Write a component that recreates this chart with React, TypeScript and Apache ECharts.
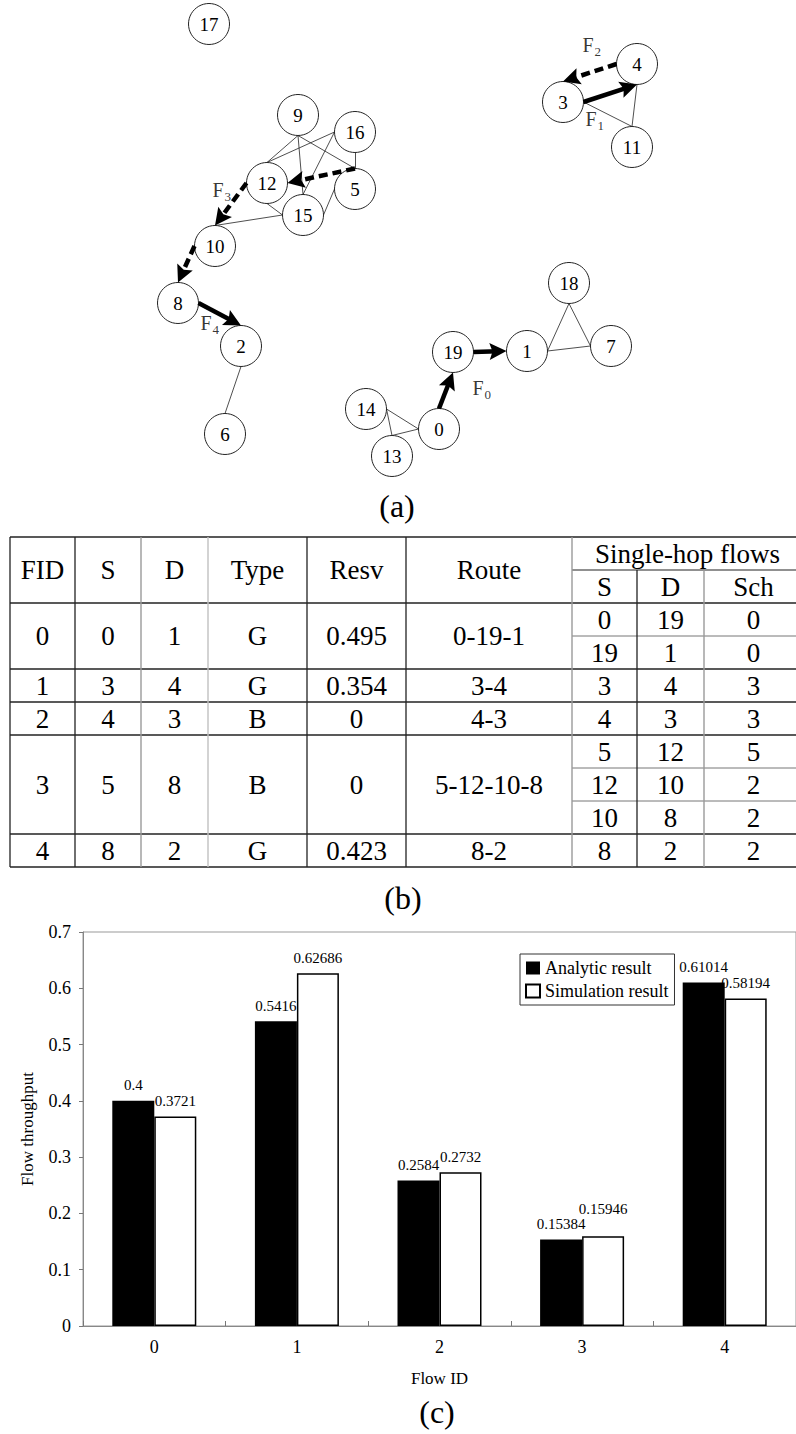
import { useEffect, useRef } from 'react';
import * as echarts from 'echarts';

const SERIF = 'Liberation Serif';
const DARK = '#222';
const GREY = '#9a9a9a';

// ---------- (a) network ----------
const nodeNames = ['0','1','2','3','4','5','6','7','8','9','10','11','12','13','14','15','16','17','18','19'];
const nodeX = [439, 527, 241, 563, 637, 355, 225, 611, 178, 298, 215, 632, 267, 392, 366, 303, 355, 209, 569, 453];
const nodeY = [429, 351, 346, 102, 64, 189, 434, 346, 303, 115, 246, 147, 183, 456, 409, 215, 132, 24, 283, 352];
const edgeFrom = ['9','9','9','16','16','16','12','15','15','2','14','14','13','1','18','1','3','4'];
const edgeTo   = ['12','15','5','12','15','5','15','5','10','6','0','13','0','18','7','7','11','11'];
// attachment side of each edge end on the node circle (N/E/S/W), as drawn in the figure
const edgeFromPort = ['S','S','S','W','W','S','S','E','W','S','E','E','N','E','S','E','E','S'];
const edgeToPort   = ['N','N','N','N','N','N','W','W','N','N','W','N','W','S','W','W','N','N'];
// same for the single-hop flows, in the order of the table's hop rows
const hopFromPort = ['N','E','E','W','N','W','W','E'];
const hopToPort   = ['S','W','S','N','E','N','N','N'];
// flow label anchors (left edge of "F", vertical centre of "F")
const flowLabelX = [472, 585, 582, 212, 200];
const flowLabelY = [388, 119, 45, 190, 323];

// ---------- (b) table ----------
const tableHeaders = ['FID', 'S', 'D', 'Type', 'Resv', 'Route'];
const hopGroupTitle = 'Single-hop flows';
const hopHeaders = ['S', 'D', 'Sch'];
const tableFlowIds = ['0', '1', '2', '3', '4'];
const tableSrc = ['0', '3', '4', '5', '8'];
const tableDst = ['1', '4', '3', '8', '2'];
const tableType = ['G', 'G', 'B', 'B', 'G'];
const tableResv = ['0.495', '0.354', '0', '0', '0.423'];
const tableRoute = ['0-19-1', '3-4', '4-3', '5-12-10-8', '8-2'];
const hopSrc = [['0', '19'], ['3'], ['4'], ['5', '12', '10'], ['8']];
const hopDst = [['19', '1'], ['4'], ['3'], ['12', '10', '8'], ['2']];
const hopSch = [['0', '0'], ['3'], ['3'], ['5', '2', '2'], ['2']];

// ---------- (c) bar chart ----------
const flowCategories = ['0', '1', '2', '3', '4'];
const analyticResult = [0.4, 0.5416, 0.2584, 0.15384, 0.61014];
const simulationResult = [0.3721, 0.62686, 0.2732, 0.15946, 0.58194];
const seriesNames = ['Analytic result', 'Simulation result'];

// layout constants
const NODE_SIZE = 41;
const ARROW = 17;
const ARROW_PATH = 'path://M5,0L10,14L5,11.5L0,14Z';
const TABLE_LEFT = 10;
const TABLE_TOP = 537;
const SUB_H = 33;
const COL_W = [65, 66, 67, 99, 99, 166, 65, 67, 99];
const V_COLORS = [DARK, DARK, GREY, '#c0c0c0', DARK, DARK, GREY, DARK, GREY, DARK];

function portPoint(name: string, port: string): number[] {
  const i = nodeNames.indexOf(name);
  const R = NODE_SIZE / 2;
  const d: Record<string, number[]> = { N: [0, -R], E: [R, 0], S: [0, R], W: [-R, 0] };
  return [nodeX[i] + d[port][0], nodeY[i] + d[port][1]];
}

function buildEdges() {
  return edgeFrom.map((s, i) => ({
    coords: [portPoint(s, edgeFromPort[i]), portPoint(edgeTo[i], edgeToPort[i])],
  }));
}

function buildFlowLines() {
  const out: any[] = [];
  let h = 0;
  hopSrc.forEach((srcs, f) => {
    srcs.forEach((s, k) => {
      const d = hopDst[f][k];
      const start = portPoint(s, hopFromPort[h]);
      const tip = portPoint(d, hopToPort[h]);
      h++;
      const dx = tip[0] - start[0];
      const dy = tip[1] - start[1];
      const L = Math.hypot(dx, dy);
      const end = [tip[0] - (dx / L) * (ARROW / 2), tip[1] - (dy / L) * (ARROW / 2)];
      const dashed = tableType[f] === 'B';
      out.push({
        coords: [start, end],
        lineStyle: { color: '#000', width: 4.5, type: dashed ? [9, 5] : 'solid', opacity: 1 },
      });
    });
  });
  return out;
}

function plainText(t: string, x: number, y: number, size: number) {
  return {
    type: 'text',
    x,
    y,
    style: {
      text: t,
      fill: '#000',
      fontSize: size,
      fontFamily: SERIF,
      align: 'center',
      verticalAlign: 'middle',
    },
  };
}

function buildTable() {
  const els: any[] = [];
  const xs = [TABLE_LEFT];
  COL_W.forEach((w) => xs.push(xs[xs.length - 1] + w));
  const right = xs[xs.length - 1];
  const hdrMid = TABLE_TOP + SUB_H;
  const hdrBot = TABLE_TOP + 2 * SUB_H;
  const text = (t: string, x: number, y: number) => plainText(t, x, y, 27);
  const line = (x1: number, y1: number, x2: number, y2: number, c: string, w: number) => ({
    type: 'line',
    shape: { x1, y1, x2, y2 },
    style: { stroke: c, lineWidth: w },
  });
  tableHeaders.forEach((hd, i) => els.push(text(hd, (xs[i] + xs[i + 1]) / 2, (TABLE_TOP + hdrBot) / 2)));
  els.push(text(hopGroupTitle, (xs[6] + right) / 2, (TABLE_TOP + hdrMid) / 2));
  hopHeaders.forEach((hd, i) => els.push(text(hd, (xs[6 + i] + xs[7 + i]) / 2, (hdrMid + hdrBot) / 2)));
  let y = hdrBot;
  const rowBounds = [TABLE_TOP, hdrBot];
  const subLines: number[] = [];
  tableFlowIds.forEach((fid, r) => {
    const n = hopSrc[r].length;
    const h = n * SUB_H;
    const vals = [fid, tableSrc[r], tableDst[r], tableType[r], tableResv[r], tableRoute[r]];
    vals.forEach((v, i) => els.push(text(v, (xs[i] + xs[i + 1]) / 2, y + h / 2)));
    for (let k = 0; k < n; k++) {
      const cy = y + k * SUB_H + SUB_H / 2;
      [hopSrc[r][k], hopDst[r][k], hopSch[r][k]].forEach((v, i) =>
        els.push(text(v, (xs[6 + i] + xs[7 + i]) / 2, cy)),
      );
      if (k > 0) subLines.push(y + k * SUB_H);
    }
    y += h;
    rowBounds.push(y);
  });
  els.push(line(xs[6], hdrMid, right, hdrMid, DARK, 1.2));
  subLines.forEach((yy) => els.push(line(xs[6], yy, right, yy, '#777', 1)));
  rowBounds.forEach((yy) => els.push(line(xs[0], yy, right, yy, DARK, 1.3)));
  xs.forEach((x, i) => {
    const top = i === 7 || i === 8 ? hdrMid : TABLE_TOP;
    els.push(line(x, top, x, y, V_COLORS[i], V_COLORS[i] === DARK ? 1.3 : 1.4));
  });
  return els;
}

function buildOption(): any {
  const nodes = nodeNames.map((name, i) => ({ name, value: [nodeX[i], nodeY[i]] }));
  const flowLabels = tableFlowIds.map((id, i) => ({ value: [flowLabelX[i], flowLabelY[i]], id }));
  const barLabel = {
    show: true,
    position: 'top',
    distance: 8,
    color: '#000',
    fontSize: 15,
    fontFamily: SERIF,
  };
  return {
    animation: false,
    backgroundColor: '#fff',
    textStyle: { fontFamily: SERIF },
    grid: [
      { left: 0, top: 0, width: 796, height: 480, show: false },
      { left: 83, top: 932, width: 725, height: 394, show: true, borderColor: '#999', borderWidth: 1, backgroundColor: 'transparent' },
    ],
    xAxis: [
      { type: 'value', gridIndex: 0, min: 0, max: 796, show: false },
      {
        type: 'category',
        gridIndex: 1,
        data: flowCategories,
        name: 'Flow ID',
        nameLocation: 'middle',
        nameGap: 44,
        nameTextStyle: { fontFamily: SERIF, fontSize: 17, color: '#000' },
        axisLine: { show: true, lineStyle: { color: '#888', width: 1 } },
        axisTick: { show: true, inside: true, length: 5, lineStyle: { color: '#777' } },
        axisLabel: { fontFamily: SERIF, fontSize: 18, color: '#000', margin: 12 },
        splitLine: { show: false },
      },
    ],
    yAxis: [
      { type: 'value', gridIndex: 0, min: 0, max: 480, inverse: true, show: false },
      {
        type: 'value',
        gridIndex: 1,
        min: 0,
        max: 0.7,
        interval: 0.1,
        name: 'Flow throughput',
        nameLocation: 'middle',
        nameGap: 47,
        nameTextStyle: { fontFamily: SERIF, fontSize: 17, color: '#000' },
        axisLine: { show: true, lineStyle: { color: '#888', width: 1 } },
        axisTick: { show: true, length: 4, lineStyle: { color: '#777' } },
        axisLabel: { fontFamily: SERIF, fontSize: 18, color: '#000', margin: 12 },
        splitLine: { show: false },
      },
    ],
    legend: {
      left: 520,
      top: 954,
      orient: 'vertical',
      padding: [5, 6, 5, 5],
      itemGap: 5,
      itemWidth: 14,
      itemHeight: 13,
      icon: 'rect',
      borderColor: '#333',
      borderWidth: 1,
      selectedMode: false,
      textStyle: { fontFamily: SERIF, fontSize: 18, color: '#000' },
      data: seriesNames,
    },
    graphic: [
      ...buildTable(),
      plainText('(a)', 397, 506, 32),
      plainText('(b)', 403, 898, 32),
      plainText('(c)', 437, 1412, 32),
    ],
    series: [
      {
        type: 'lines',
        coordinateSystem: 'cartesian2d',
        xAxisIndex: 0,
        yAxisIndex: 0,
        z: 2,
        lineStyle: { color: '#222', width: 0.8, opacity: 1 },
        emphasis: { disabled: true },
        data: buildEdges(),
      },
      {
        type: 'scatter',
        xAxisIndex: 0,
        yAxisIndex: 0,
        z: 3,
        symbol: 'circle',
        symbolSize: NODE_SIZE,
        itemStyle: { color: '#fff', borderColor: '#222', borderWidth: 1, opacity: 1 },
        label: {
          show: true,
          position: 'inside',
          formatter: '{b}',
          fontSize: 19,
          fontFamily: SERIF,
          color: '#000',
        },
        emphasis: { disabled: true },
        data: nodes,
      },
      {
        type: 'lines',
        coordinateSystem: 'cartesian2d',
        xAxisIndex: 0,
        yAxisIndex: 0,
        z: 4,
        symbol: ['none', ARROW_PATH],
        symbolSize: [0, ARROW],
        emphasis: { disabled: true },
        data: buildFlowLines(),
      },
      {
        type: 'scatter',
        xAxisIndex: 0,
        yAxisIndex: 0,
        z: 5,
        symbolSize: 1,
        itemStyle: { color: 'rgba(0,0,0,0)' },
        emphasis: { disabled: true },
        label: {
          show: true,
          position: 'right',
          distance: 0,
          formatter: (p: any) => `{f|F}{s|${p.data.id}}`,
          rich: {
            f: { fontSize: 20, fontFamily: SERIF, color: '#000', verticalAlign: 'top', lineHeight: 20 },
            s: { fontSize: 13, fontFamily: SERIF, color: '#000', verticalAlign: 'top', lineHeight: 13, padding: [10, 0, 0, 1] },
          },
        },
        data: flowLabels,
      },
      {
        name: seriesNames[0],
        type: 'bar',
        xAxisIndex: 1,
        yAxisIndex: 1,
        barWidth: 42,
        barGap: '0%',
        itemStyle: { color: '#000' },
        label: barLabel,
        data: analyticResult,
      },
      {
        name: seriesNames[1],
        type: 'bar',
        xAxisIndex: 1,
        yAxisIndex: 1,
        barWidth: 42,
        barGap: '0%',
        itemStyle: { color: '#fff', borderColor: '#000', borderWidth: 1.5 },
        label: barLabel,
        // the label of the 4th pair is lifted, as in the figure, to clear its neighbour
        data: simulationResult.map((v, i) =>
          i === 3 ? { value: v, label: { ...barLabel, distance: 20 } } : v,
        ),
      },
    ],
  };
}

export default function App() {
  const ref = useRef<HTMLDivElement>(null);
  useEffect(() => {
    const chart = echarts.init(ref.current!, null, { renderer: 'svg' });
    chart.setOption(buildOption());
    return () => chart.dispose();
  }, []);
  return (
    <div
      ref={ref}
      style={{ position: 'absolute', left: 0, top: 0, width: 796, height: 1434, background: '#fff' }}
    />
  );
}
